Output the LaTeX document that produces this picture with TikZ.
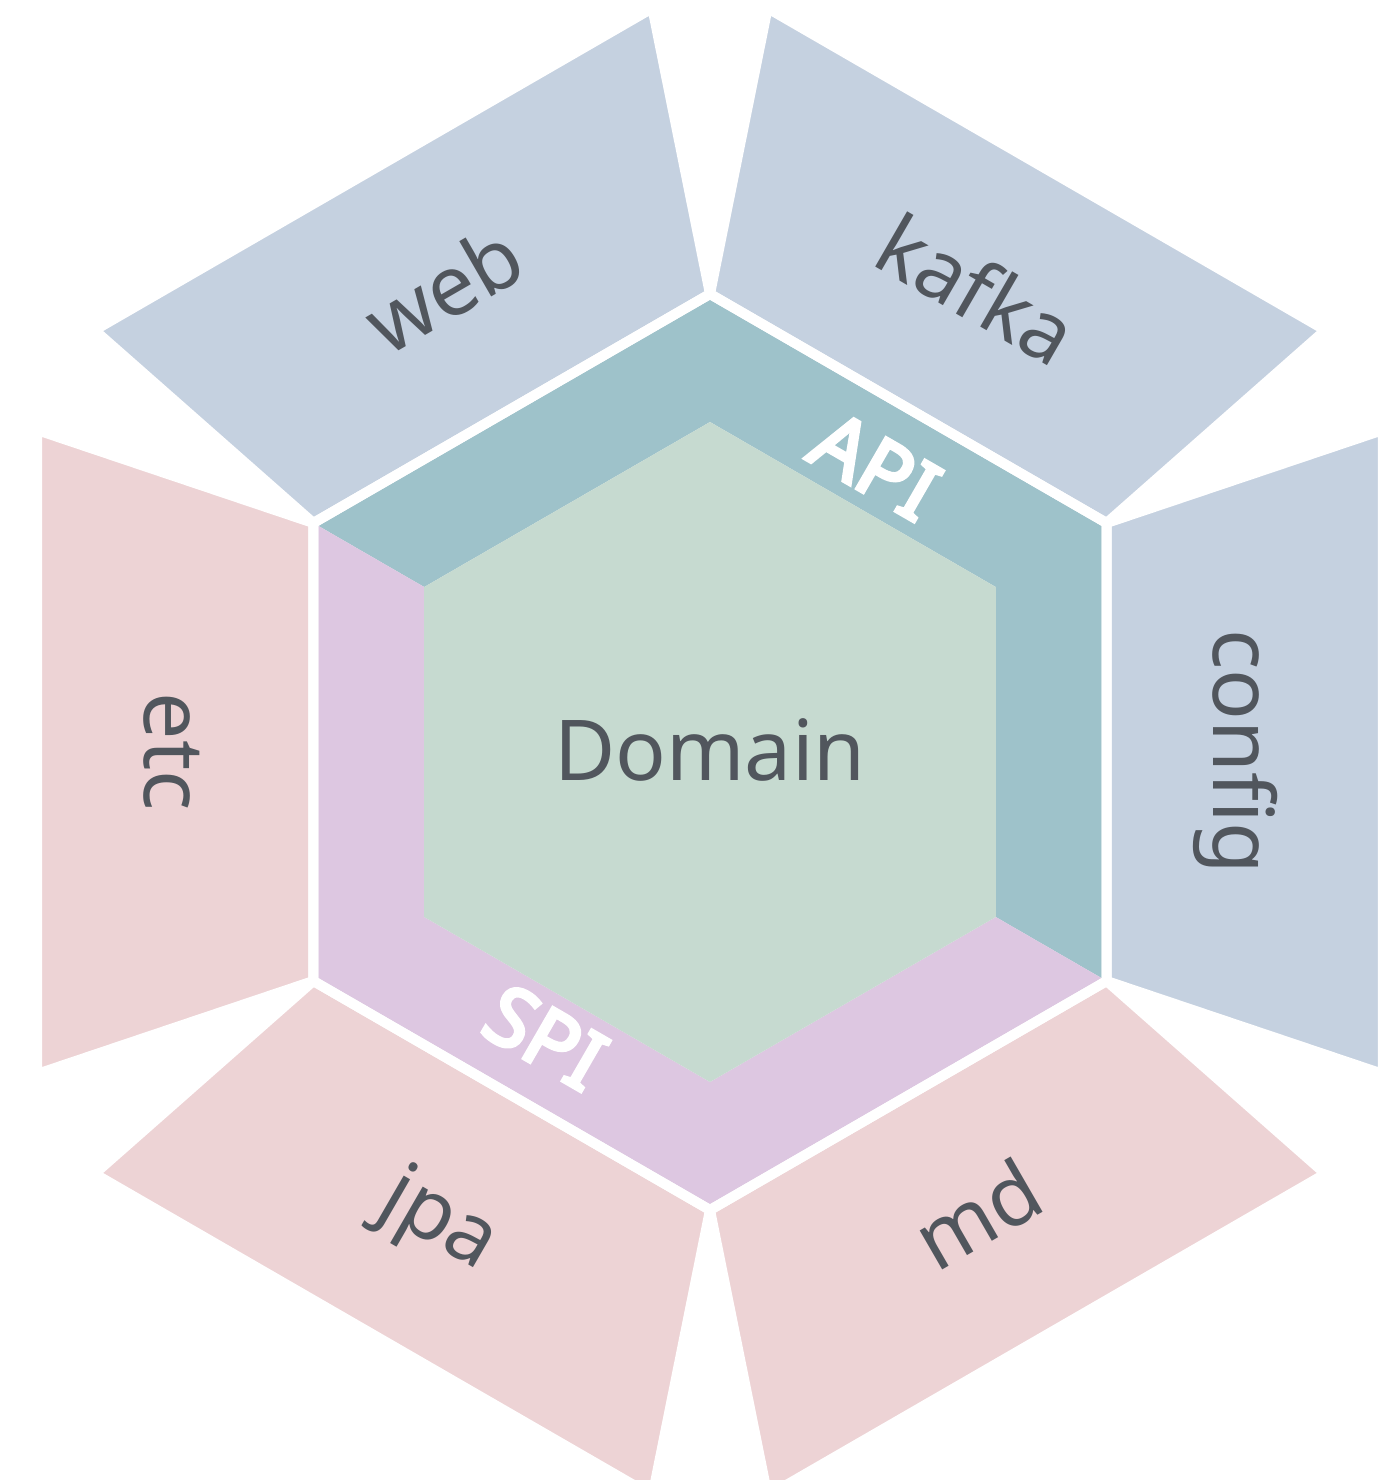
\documentclass[tikz,border=0pt]{standalone}
\usepackage{fontspec}
\setmainfont{Noto Sans}
\newfontfamily\portfont{Noto Sans}[FakeBold=4.5]
\definecolor{adapterblue}{HTML}{C5D1E0}
\definecolor{adapterrose}{HTML}{EDD3D5}
\definecolor{apiteal}{HTML}{9EC2CA}
\definecolor{spililac}{HTML}{DDC7E1}
\definecolor{domaingreen}{HTML}{C6DAD0}
\definecolor{labelgray}{HTML}{51565D}
\begin{document}
\begin{tikzpicture}[x=0.5pt,y=0.5pt,line join=miter,
  gap/.style={draw=white,line width=5pt},
  adapter/.style={text=labelgray,font=\fontsize{42pt}{50pt}\selectfont,anchor=base,inner sep=0pt},
  port/.style={text=white,font=\portfont\fontsize{41pt}{48pt}\selectfont,anchor=base,inner sep=0pt}]
\useasboundingbox (-710,-728) rectangle (690,752);

% adapter trapezoids around the hexagon
\foreach \t/\col in {0/adapterblue,60/adapterblue,120/adapterblue,
                     180/adapterrose,240/adapterrose,300/adapterrose}
  \fill[\col] ({\t-30}:458) -- ({\t-25.57}:746.1) -- ({\t+25.57}:746.1) -- ({\t+30}:458) -- cycle;

% API half of the ring
\fill[apiteal] (150:458) -- (90:458) -- (30:458) -- (-30:458)
  -- (-30:330) -- (30:330) -- (90:330) -- (150:330) -- cycle;
% SPI half of the ring
\fill[spililac] (-30:458) -- (-90:458) -- (-150:458) -- (150:458)
  -- (150:330) -- (-150:330) -- (-90:330) -- (-30:330) -- cycle;
% domain core
\fill[domaingreen] (30:330) -- (90:330) -- (150:330) -- (210:330) -- (270:330) -- (330:330) -- cycle;

% white separating strokes
\foreach \t in {0,60,...,300}
  \draw[gap] ({\t-30}:458) -- ({\t-25.57}:746.1) -- ({\t+25.57}:746.1) -- ({\t+30}:458) -- cycle;
\draw[gap] (30:458) -- (90:458) -- (150:458) -- (210:458) -- (270:458) -- (330:458) -- cycle;

% labels
\node[adapter] (domain) at (0,-28) {Domain};
\node[adapter,rotate=-90] (config) at (503,0) {config};
\node[adapter,rotate=-90] (etc) at (-565,0) {etc};
\node[adapter,rotate=30] (web) at (-251.5,435.7) {web};
\node[adapter,rotate=-30] (kafka) at (251.5,435.7) {kafka};
\node[adapter,rotate=-30] (jpa) at (-282.5,-489.3) {jpa};
\node[adapter,rotate=30] (md) at (282.5,-489.3) {md};
\node[port,rotate=-30] (api) at (150.75,261.1) {API};
\node[port,rotate=-30] (spi) at (-179.25,-310.5) {SPI};
\end{tikzpicture}
\end{document}
